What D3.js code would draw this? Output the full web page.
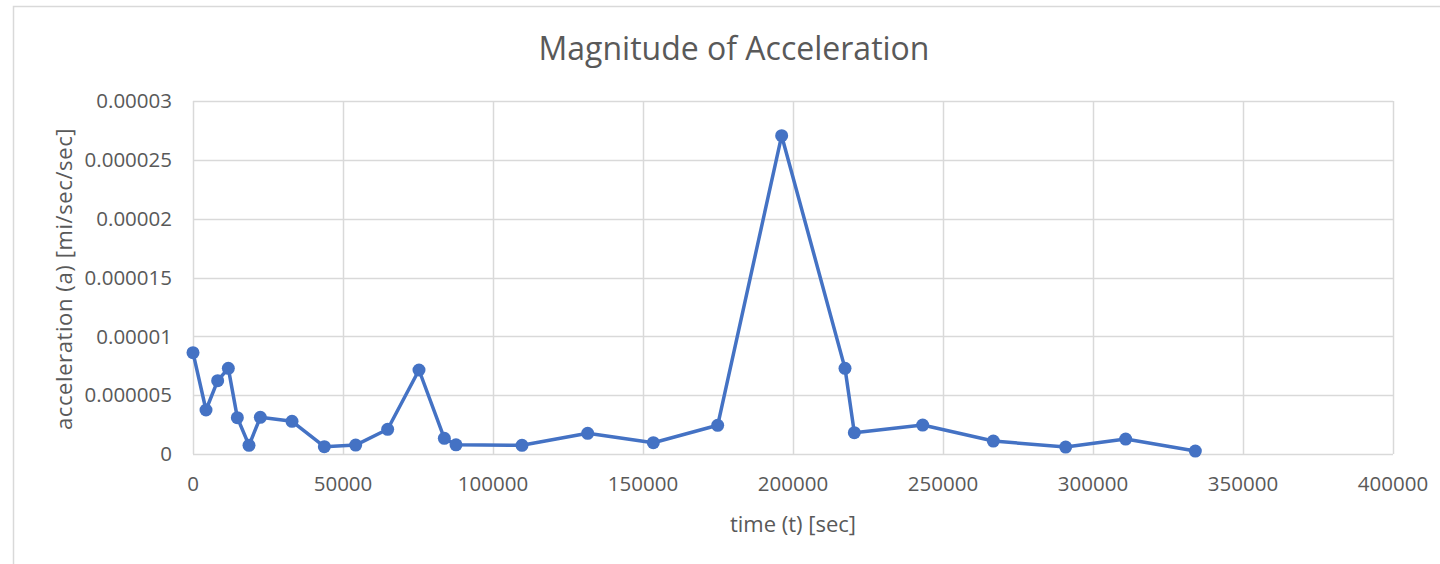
<!DOCTYPE html>
<html><head><meta charset="utf-8">
<script src="https://cdn.jsdelivr.net/npm/d3@7"></script>
<style>body{margin:0;background:#fff;}svg{display:block;font-family:"Open Sans",sans-serif;}</style>
</head><body><svg id="c" width="1440" height="564"></svg>
<script>
const timeSec = [0,4333,8222,11778,14778,18667,22444,33000,43778,54222,64889,75333,83778,87667,109667,131556,153444,174889,196222,217333,220444,243222,266778,290889,310889,334111];
const accel = [8.61e-6,3.74e-6,6.23e-6,7.28e-6,3.09e-6,0.74e-6,3.12e-6,2.78e-6,0.62e-6,0.76e-6,2.1e-6,7.14e-6,1.33e-6,0.78e-6,0.74e-6,1.76e-6,0.96e-6,2.44e-6,27.05e-6,7.28e-6,1.81e-6,2.46e-6,1.1e-6,0.59e-6,1.27e-6,0.25e-6];
const xTicks = [0,50000,100000,150000,200000,250000,300000,350000,400000];
const xTickLabels = ["0","50000","100000","150000","200000","250000","300000","350000","400000"];
const yTicks = [0,0.000005,0.00001,0.000015,0.00002,0.000025,0.00003];
const yTickLabels = ["0","0.000005","0.00001","0.000015","0.00002","0.000025","0.00003"];
const titleText = "Magnitude of Acceleration";
const xTitle = "time (t) [sec]";
const yTitle = "acceleration (a) [mi/sec/sec]";

const svg = d3.select("#c");
const L=193,R=1393,T=101,B=454;
const x = d3.scaleLinear().domain([0,400000]).range([L,R]);
const y = d3.scaleLinear().domain([0,0.00003]).range([B,T]);
const grid="#d9d9d9", txt="#595959", blue="#4472C4";

svg.append("rect").attr("x",13.5).attr("y",6.5).attr("width",1440).attr("height",600)
  .attr("fill","#fff").attr("stroke",grid).attr("stroke-width",1.5);

svg.append("g").selectAll("line").data(yTicks).join("line")
  .attr("x1",L).attr("x2",R).attr("y1",d=>Math.round(y(d))+0.5).attr("y2",d=>Math.round(y(d))+0.5)
  .attr("stroke",grid).attr("stroke-width",1.5);
svg.append("g").selectAll("line").data(xTicks).join("line")
  .attr("y1",T).attr("y2",B).attr("x1",d=>Math.round(x(d))+0.5).attr("x2",d=>Math.round(x(d))+0.5)
  .attr("stroke",grid).attr("stroke-width",1.5);

svg.append("g").selectAll("text").data(yTicks).join("text")
  .attr("x",172).attr("y",d=>y(d)).attr("dy","0.35em").attr("text-anchor","end")
  .attr("font-size",20.5).attr("fill",txt).text((d,i)=>yTickLabels[i]);
svg.append("g").selectAll("text").data(xTicks).join("text")
  .attr("x",d=>x(d)).attr("y",491).attr("text-anchor","middle")
  .attr("font-size",20.5).attr("fill",txt).text((d,i)=>xTickLabels[i]);

svg.append("text").attr("x",734).attr("y",60).attr("text-anchor","middle")
  .attr("font-size",32).attr("fill",txt).text(titleText);
svg.append("text").attr("x",793).attr("y",532).attr("text-anchor","middle")
  .attr("font-size",22).attr("fill",txt).text(xTitle);
svg.append("text").attr("transform","translate(72,279) rotate(-90)").attr("text-anchor","middle")
  .attr("font-size",22).attr("fill",txt).attr("letter-spacing",0.6).text(yTitle);

const pts = timeSec.map((t,i)=>[t,accel[i]]);
svg.append("path").datum(pts)
  .attr("d",d3.line().x(d=>x(d[0])).y(d=>y(d[1])))
  .attr("fill","none").attr("stroke",blue).attr("stroke-width",3.5).attr("stroke-linejoin","round");
svg.append("g").selectAll("circle").data(pts).join("circle")
  .attr("cx",d=>x(d[0])).attr("cy",d=>y(d[1])).attr("r",6.5).attr("fill",blue);
</script></body></html>
